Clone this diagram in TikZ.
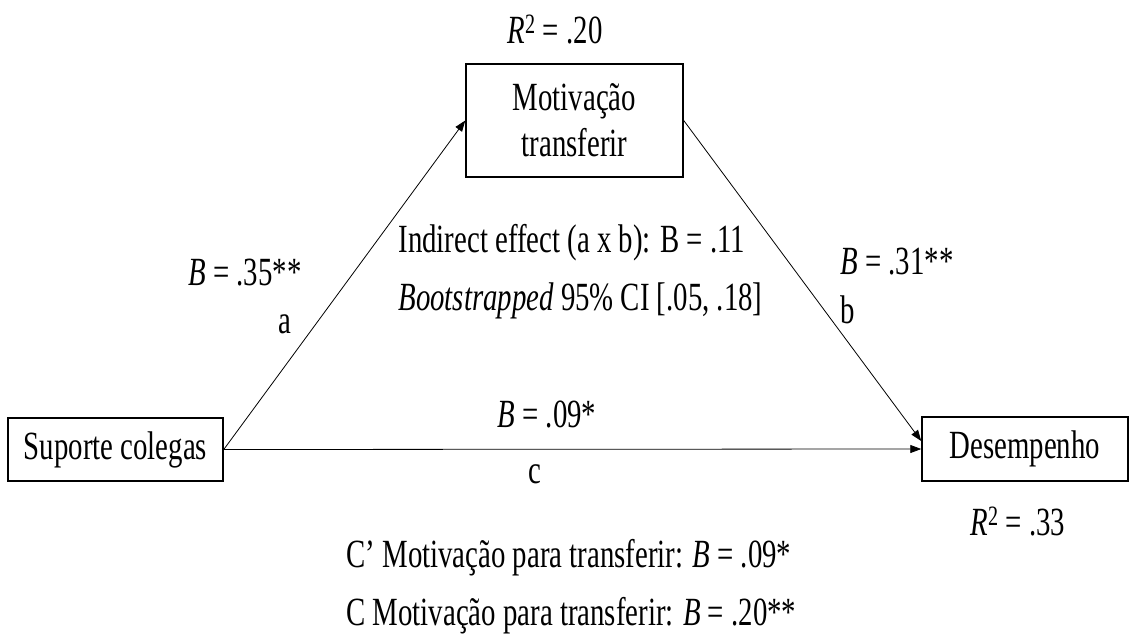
\documentclass[tikz,border=0pt]{standalone}
\usepackage{fontspec}
\setmainfont[FakeStretch=0.72]{Liberation Serif}
\usetikzlibrary{arrows.meta}

\begin{document}
\begin{tikzpicture}[x=1pt,y=-1pt,
    font=\fontsize{40}{46}\selectfont,
    varbox/.style={draw, line width=1.5pt, inner sep=0pt, align=center},
    link/.style={line width=0.8pt, -{Triangle[length=11pt,width=8pt]}}]
  \useasboundingbox (0,0) rectangle (1130,635);
  % variables
  \node[varbox, minimum width=215pt, minimum height=63pt] (sup) at (115.5,449.5) {Suporte colegas};
  \node[varbox, minimum width=217pt, minimum height=113pt] (mot) at (574.5,120.5) {Motivação\\transferir};
  \node[varbox, minimum width=206pt, minimum height=64pt] (des) at (1025,449) {Desempenho};
  % paths a, b, c
  \draw[link] (sup.east) -- (mot.west);
  \draw[link] (mot.east) -- ([yshift=8pt]des.west);
  \draw[link] (sup.east) -- (des.west);
  % coefficients
  \node[anchor=base] (r2m) at (555,43) {\textit{R}\textsuperscript{2} = .20};
  \node[anchor=base west] (ba) at (185,285) {\textit{B} = .35**};
  \node[anchor=base] (la) at (285,333) {a};
  \node[anchor=base west] (ind) at (395,252) {Indirect effect (a x b): B = .11};
  \node[anchor=base west] (boot) at (395,310) {\textit{Bootstrapped} 95\% CI [.05, .18]};
  \node[anchor=base west] (bb) at (837,274) {\textit{B} = .31**};
  \node[anchor=base] (lb) at (848,323) {b};
  \node[anchor=base] (bc) at (547,427) {\textit{B} = .09*};
  \node[anchor=base] (lc) at (535,483) {c};
  \node[anchor=base west] (r2d) at (967,535) {\textit{R}\textsuperscript{2} = .33};
  \node[anchor=base west] (cp) at (343,567) {C’ Motivação para transferir: \textit{B} = .09*};
  \node[anchor=base west] (ct) at (343,625) {C Motivação para transferir: \textit{B} = .20**};
\end{tikzpicture}
\end{document}
